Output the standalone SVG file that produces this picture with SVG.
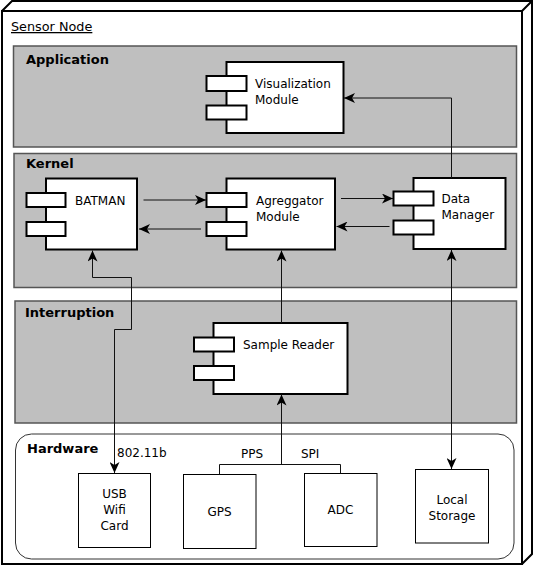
<svg xmlns="http://www.w3.org/2000/svg" width="533" height="568" viewBox="0 0 533 568">
<defs>
<style>
text{font-family:"DejaVu Sans","Liberation Sans",sans-serif;font-size:12px;fill:#000}
.title{font-weight:bold;font-size:13px}
.panel{fill:#bfbfbf;stroke:#555;stroke-width:1.5}
.body{fill:#fff;stroke:#000;stroke-width:2}
.hw{fill:#fff;stroke:#000;stroke-width:1}
.conn{fill:none;stroke:#111;stroke-width:1}
</style>
<marker id="arr" viewBox="0 0 11 10" refX="11" refY="5" markerWidth="11" markerHeight="10" orient="auto-start-reverse" markerUnits="userSpaceOnUse">
<path d="M0,0 L11,5 L0,10 L3,5 z" fill="#000"/>
</marker>
</defs>
<rect x="0" y="0" width="533" height="568" fill="#fff"/>
<g id="sensor-node">
<rect x="2" y="11" width="520" height="553" fill="#fff" stroke="#000" stroke-width="2"/>
<path d="M2,11 L12,1 L532,1 L532,554 L522,564 M522,11 L532,1" fill="none" stroke="#000" stroke-width="2"/>
<text x="11" y="31" style="font-size:12.8px" text-decoration="underline">Sensor Node</text>
</g>
<g id="application">
<rect class="panel" x="13.5" y="46" width="503" height="101"/>
<text class="title" x="26" y="64">Application</text>
</g>
<g id="kernel">
<rect class="panel" x="14" y="153.5" width="502.5" height="134"/>
<text class="title" x="26" y="168">Kernel</text>
</g>
<g id="interruption">
<rect class="panel" x="15" y="301" width="501.5" height="122"/>
<text class="title" x="25" y="317">Interruption</text>
</g>
<g id="hardware">
<rect x="15.5" y="434" width="498.5" height="125" rx="16" ry="16" fill="#fff" stroke="#333" stroke-width="1"/>
<text class="title" x="27" y="453">Hardware</text>
</g>
<g id="visualization-module">
<rect class="body" x="226.5" y="62" width="117" height="71"/>
<rect class="body" x="206.5" y="76" width="40" height="15"/>
<rect class="body" x="206.5" y="105.5" width="40" height="14"/>
<text x="255" y="88">Visualization</text>
<text x="255" y="104">Module</text>
</g>
<g id="batman">
<rect class="body" x="46" y="178.5" width="91" height="71"/>
<rect class="body" x="26.5" y="193" width="39" height="14"/>
<rect class="body" x="26.5" y="222" width="39" height="14"/>
<text x="75" y="204.5">BATMAN</text>
</g>
<g id="agreggator-module">
<rect class="body" x="226.5" y="178.5" width="108.5" height="71"/>
<rect class="body" x="206.5" y="193" width="40" height="14"/>
<rect class="body" x="206.5" y="222" width="40" height="14"/>
<text x="256" y="205">Agreggator</text>
<text x="256" y="221">Module</text>
</g>
<g id="data-manager">
<rect class="body" x="413.5" y="178" width="92" height="71"/>
<rect class="body" x="393.5" y="191.5" width="40" height="14"/>
<rect class="body" x="393.5" y="220.5" width="40" height="14"/>
<text x="441.5" y="203">Data</text>
<text x="441.5" y="219">Manager</text>
</g>
<g id="sample-reader">
<rect class="body" x="213.5" y="323" width="134" height="71"/>
<rect class="body" x="194" y="337.5" width="40" height="14"/>
<rect class="body" x="194" y="366" width="40" height="14"/>
<text x="243" y="348.5">Sample Reader</text>
</g>
<g id="usb-wifi-card">
<rect class="hw" x="78.5" y="473.5" width="72" height="74"/>
<text x="114.5" y="497.5" text-anchor="middle">USB</text>
<text x="114.5" y="513.5" text-anchor="middle">Wifi</text>
<text x="114.5" y="529.5" text-anchor="middle">Card</text>
</g>
<g id="gps">
<rect class="hw" x="183.5" y="474.5" width="72.5" height="74"/>
<text x="219.5" y="516" text-anchor="middle">GPS</text>
</g>
<g id="adc">
<rect class="hw" x="304.5" y="473.5" width="72.5" height="73"/>
<text x="340.5" y="514" text-anchor="middle">ADC</text>
</g>
<g id="local-storage">
<rect class="hw" x="415.5" y="469.5" width="73" height="73.5"/>
<text x="452" y="504" text-anchor="middle">Local</text>
<text x="452" y="520" text-anchor="middle">Storage</text>
</g>
<g id="connectors">
<path class="conn" d="M451.5,178 L451.5,98 L344,98" marker-end="url(#arr)"/>
<path class="conn" d="M143.5,200 L206,200" marker-end="url(#arr)"/>
<path class="conn" d="M201,229 L139,229" marker-end="url(#arr)"/>
<path class="conn" d="M341,198.5 L393,198.5" marker-end="url(#arr)"/>
<path class="conn" d="M389.5,226.5 L336.5,226.5" marker-end="url(#arr)"/>
<path class="conn" d="M92.5,250.5 L92.5,277.5 L131.5,277.5 L131.5,329.5 L114.5,329.5 L114.5,473" marker-start="url(#arr)" marker-end="url(#arr)"/>
<path class="conn" d="M281.5,323 L281.5,250.5" marker-end="url(#arr)"/>
<path class="conn" d="M281.5,464.5 L281.5,394.5" marker-end="url(#arr)"/>
<path class="conn" d="M219.5,474.5 L219.5,464.5 L340.5,464.5 L340.5,473.5"/>
<path class="conn" d="M451.5,250 L451.5,469" marker-start="url(#arr)" marker-end="url(#arr)"/>
<text x="117" y="457">802.11b</text>
<text x="241" y="458">PPS</text>
<text x="301" y="458">SPI</text>
</g>
</svg>
